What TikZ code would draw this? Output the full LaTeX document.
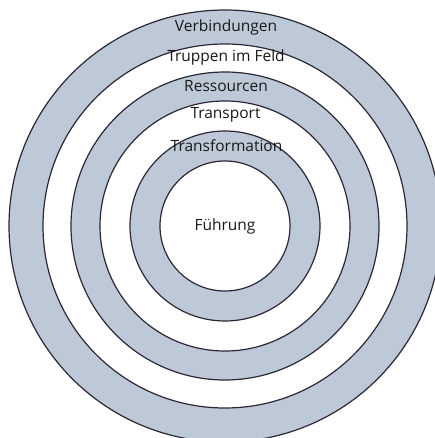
\documentclass[tikz,border=0pt]{standalone}
\usepackage{fontspec}
\setmainfont{Open Sans}
\definecolor{ringblue}{RGB}{190,201,216}
\definecolor{ringline}{RGB}{45,38,55}
\tikzset{
  band/.style={draw=ringline, line width=1.2pt},
  lbl/.style={inner sep=0pt, font=\fontsize{15.5}{17}\selectfont, text=black!90}
}
\begin{document}
\begin{tikzpicture}[x=1pt,y=-1pt]
\useasboundingbox (0,0) rectangle (435,438);
\clip (0,0) rectangle (435,438);
\fill[white] (0,0) rectangle (435,438);
\coordinate (c) at (225,226);
\filldraw[band, fill=ringblue] (c) circle[radius=216];
\filldraw[band, fill=white] (c) circle[radius=182];
\filldraw[band, fill=ringblue] (c) circle[radius=154];
\filldraw[band, fill=white] (c) circle[radius=125];
\filldraw[band, fill=ringblue] (c) circle[radius=95];
\filldraw[band, fill=white] (c) circle[radius=65];
\node[lbl] (l1) at (226,27) {Verbindungen};
\node[lbl] (l2) at (226,57) {Truppen im Feld};
\node[lbl] (l3) at (226,86) {Ressourcen};
\node[lbl] (l4) at (225.5,115) {Transport};
\node[lbl] (l5) at (226.5,146) {Transformation};
\node[lbl] (l6) at (225,226) {Führung};
\end{tikzpicture}
\end{document}
